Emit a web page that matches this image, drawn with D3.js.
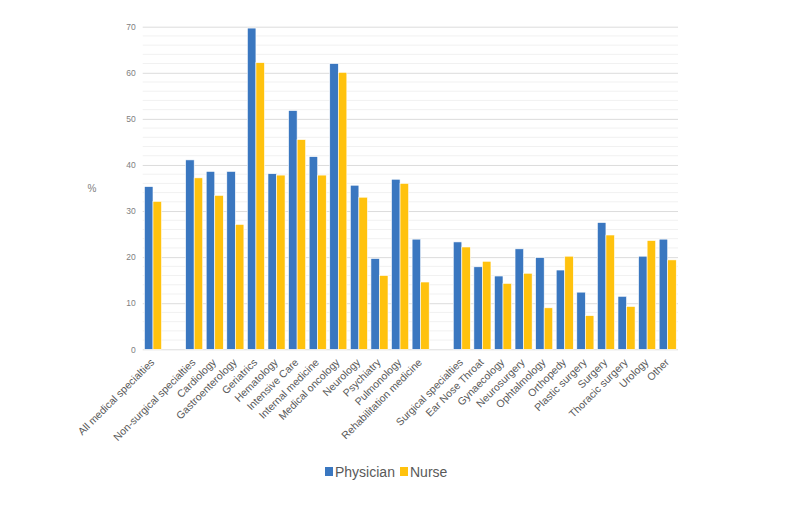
<!DOCTYPE html>
<html>
<head>
<meta charset="utf-8">
<script src="https://cdn.jsdelivr.net/npm/d3@7"></script>
<style>
  body { margin: 0; background: #fff; }
  text { font-family: "Liberation Sans", Arial, sans-serif; }
</style>
</head>
<body>
<svg id="chart" width="794" height="522"></svg>
<script>
// categories ('' = empty gap slot)
const categories = [
  'All medical specialties', '',
  'Non-surgical specialties', 'Cardiology', 'Gastroenterology', 'Geriatrics',
  'Hematology', 'Intensive Care', 'Internal medicine', 'Medical oncology',
  'Neurology', 'Psychiatry', 'Pulmonology', 'Rehabilitation medicine', '',
  'Surgical specialties', 'Ear Nose Throat', 'Gynaecology', 'Neurosurgery',
  'Ophtalmology', 'Orthopedy', 'Plastic surgery', 'Surgery',
  'Thoracic surgery', 'Urology', 'Other'
]
const physician = [
  35.3, null,
  41.1, 38.6, 38.6, 69.7, 38.1, 51.8, 41.8, 62.0, 35.6, 19.7, 36.9, 23.9, null,
  23.3, 17.9, 15.9, 21.8, 19.9, 17.2, 12.4, 27.5, 11.5, 20.2, 23.9
]
const nurse = [
  32.1, null,
  37.2, 33.4, 27.1, 62.2, 37.8, 45.5, 37.8, 60.1, 33.0, 16.0, 36.0, 14.6, null,
  22.2, 19.1, 14.3, 16.5, 9.0, 20.2, 7.3, 24.8, 9.3, 23.6, 19.4
]
const seriesNames = ['Physician', 'Nurse']
const yTicks = [0, 10, 20, 30, 40, 50, 60, 70]

const colors = { Physician: '#3a77c0', Nurse: '#ffc20e' }

const svg = d3.select('#chart')

const x = d3.scaleBand()
    .domain(d3.range(categories.length))
    .range([142.7, 678])
    .paddingInner(0.17)
    .paddingOuter(0.085)

const xs = d3.scaleBand()
    .domain(seriesNames)
    .range([0, x.bandwidth()])

const y = d3.scaleLinear()
    .domain([0, 70])
    .range([349.3, 26.7])

// gridlines: minor every 2, major every 10
svg.append('g')
    .selectAll('line')
    .data(d3.range(0, 71, 2).filter(v => v % 10 !== 0))
    .join('line')
    .attr('x1', 142.7).attr('x2', 678)
    .attr('y1', d => y(d)).attr('y2', d => y(d))
    .attr('stroke', '#f1f1f1')
    .attr('stroke-width', 1)

const yAxis = svg.append('g')
    .attr('transform', 'translate(142.7,0)')
    .call(d3.axisLeft(y).tickValues(yTicks).tickSize(-(678 - 142.7)).tickPadding(7))
yAxis.select('.domain').remove()
yAxis.selectAll('.tick line').attr('stroke', '#dcdcdc')
yAxis.selectAll('.tick text')
    .attr('fill', '#808080')
    .style('font-size', '8.5px')
    .style('font-family', '"Liberation Sans", Arial, sans-serif')

svg.append('text')
    .attr('x', 92).attr('y', 192)
    .attr('text-anchor', 'middle')
    .attr('fill', '#808080')
    .style('font-size', '10px')
    .text('%')

// bars
const rows = categories.map((c, i) => ({ i, c, Physician: physician[i], Nurse: nurse[i] }))

svg.append('g')
    .selectAll('g')
    .data(rows.filter(r => r.c !== ''))
    .join('g')
    .attr('transform', d => `translate(${x(d.i)},0)`)
    .selectAll('rect')
    .data(d => seriesNames.map(s => ({ s, v: d[s] })))
    .join('rect')
    .attr('x', d => xs(d.s))
    .attr('width', xs.bandwidth())
    .attr('y', d => y(d.v))
    .attr('height', d => y(0) - y(d.v))
    .attr('fill', d => colors[d.s])
    .attr('stroke', '#fff')
    .attr('stroke-width', 0.6)

// category labels
svg.append('g')
    .selectAll('text')
    .data(rows.filter(r => r.c !== ''))
    .join('text')
    .attr('transform', d => `translate(${x(d.i) + x.bandwidth() / 2 + 2},363) rotate(-45)`)
    .attr('text-anchor', 'end')
    .attr('fill', '#595959')
    .style('font-size', '10.5px')
    .text(d => d.c)

// legend
const legend = svg.append('g').attr('transform', 'translate(325,467)')
const legendX = [0, 75]
seriesNames.forEach((s, k) => {
  const g = legend.append('g').attr('transform', `translate(${legendX[k]},0)`)
  g.append('rect').attr('width', 8).attr('height', 9).attr('fill', colors[s])
  g.append('text')
    .attr('x', 10).attr('y', 9.5)
    .attr('fill', '#595959')
    .style('font-size', '14px')
    .text(s)
})
</script>
</body>
</html>
